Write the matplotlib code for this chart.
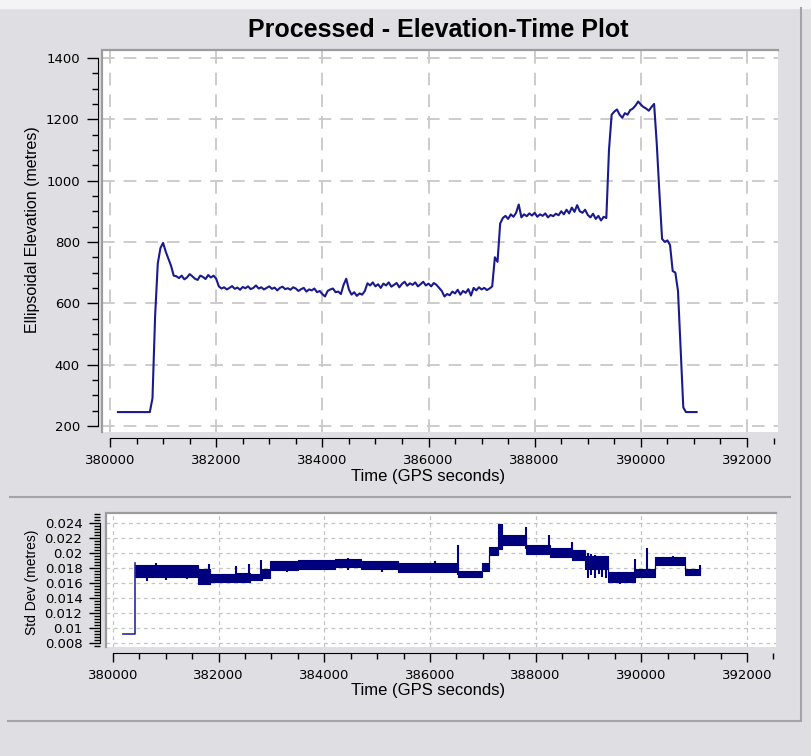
import numpy as np
import matplotlib.pyplot as plt
from matplotlib.lines import Line2D
from matplotlib.ticker import MultipleLocator, FuncFormatter

# ---- data: elevation, sampled every 50 s from 380150 ----
elev_t0 = 380150
elev_dt = 50
elev = [
    245, 245, 245, 245, 245, 245, 245, 245, 245, 245,   # 380150
    245, 245, 245, 290, 560, 730, 780, 797, 768, 745,   # 380650
    722, 690, 688, 682, 690, 678, 684, 695, 688, 680,   # 381150
    676, 690, 686, 679, 692, 684, 690, 680, 655, 648,   # 381650
    652, 645, 650, 656, 647, 651, 644, 653, 649, 655,   # 382150
    646, 650, 658, 648, 652, 645, 650, 655, 647, 651,   # 382650
    642, 650, 654, 646, 649, 644, 652, 648, 640, 646,   # 383150
    650, 638, 645, 642, 648, 636, 640, 630, 622, 640,   # 383650
    645, 648, 636, 638, 630, 660, 680, 645, 628, 636,   # 384150
    624, 632, 628, 640, 665, 658, 668, 655, 662, 650,   # 384650
    664, 658, 668, 654, 660, 666, 652, 663, 670, 657,   # 385150
    665, 660, 668, 655, 662, 670, 658, 664, 655, 666,   # 385650
    660, 650, 640, 622, 630, 626, 638, 632, 644, 628,   # 386150
    640, 634, 646, 625, 650, 642, 652, 645, 650, 643,   # 386650
    648, 655, 750, 735, 860, 878, 885, 875, 890, 882,   # 387150
    895, 922, 880, 890, 884, 893, 886, 895, 882, 890,   # 387650
    885, 893, 880, 888, 884, 892, 887, 900, 890, 905,   # 388150
    893, 912, 898, 920, 900, 895, 905, 888, 880, 892,   # 388650
    875, 885, 870, 882, 878, 1100, 1215, 1225, 1232, 1215,  # 389150
    1205, 1220, 1215, 1230, 1235, 1245, 1258, 1248, 1240, 1235,  # 389650
    1228, 1240, 1250, 1120, 960, 810, 800, 805, 790, 705,  # 390150
    700, 640, 450, 260, 245, 245, 245, 245, 245,        # 390650
]

# ---- data: std dev, band segments (edges, low, high) ----
sd_start_t = [380189, 380416, 380416]
sd_start_v = [0.0092, 0.0092, 0.0187]
sd_edges = [380416, 381608, 381835, 382346, 382592, 382820, 382970, 383500,
            384200, 384700, 385400, 386528, 386982, 387115, 387285, 387360,
            387814, 388268, 388684, 388930, 389365, 389876, 390254, 390822,
            391106]
sd_low = [0.0168, 0.0159, 0.0161, 0.0161, 0.0164, 0.0167, 0.0177, 0.0179,
          0.0181, 0.0178, 0.0175, 0.0168, 0.0176, 0.0197, 0.0205, 0.0210,
          0.0198, 0.0195, 0.0190, 0.0178, 0.0161, 0.0168, 0.0184, 0.0170]
sd_high = [0.0184, 0.0178, 0.0172, 0.0173, 0.0172, 0.0178, 0.0189, 0.0190,
           0.0192, 0.0189, 0.0187, 0.0176, 0.0186, 0.0208, 0.0238, 0.0224,
           0.0210, 0.0207, 0.0204, 0.0196, 0.0174, 0.0179, 0.0195, 0.0179]
spike_t = [380650, 380813, 381000, 381400, 381816, 382327, 382573, 382800,
           383300, 384450, 385100, 386090, 386528, 386700, 387814, 388250,
           388684, 388990, 389050, 389120, 389200, 389260, 389330, 389600,
           389876, 390100, 390600, 391106]
spike_lo = [0.0163, 0.0175, 0.0164, 0.0165, 0.0165, 0.0165, 0.0165, 0.0168,
            0.0174, 0.0177, 0.0175, 0.0178, 0.0170, 0.0166, 0.0205, 0.0200,
            0.0195, 0.0167, 0.0170, 0.0166, 0.0172, 0.0168, 0.0167, 0.0159,
            0.0165, 0.0170, 0.0182, 0.0170]
spike_hi = [0.0175, 0.0187, 0.0175, 0.0175, 0.0185, 0.0183, 0.0185, 0.0190,
            0.0185, 0.0193, 0.0186, 0.0189, 0.0211, 0.0174, 0.0234, 0.0224,
            0.0215, 0.0200, 0.0199, 0.0197, 0.0196, 0.0193, 0.0192, 0.0170,
            0.0192, 0.0206, 0.0196, 0.0184]

W, H = 811, 756
BG = '#dfdfe3'
NAVY = '#1a1a8e'
LABEL_FONT = 'Liberation Sans'

fig = plt.figure(figsize=(W / 100, H / 100), dpi=100, facecolor=BG)


def fx(px):
    return px / W


def fy(py):
    return 1 - py / H


def frame_axes(ax, left_off, bottom_off, ylo, yhi):
    ax.set_facecolor('white')
    for s in ['top', 'right']:
        ax.spines[s].set_visible(False)
    ax.spines['left'].set_position(('outward', left_off))
    ax.spines['bottom'].set_position(('outward', bottom_off))
    ax.spines['left'].set_bounds(ylo, yhi)
    ax.spines['bottom'].set_bounds(380000, 392000)
    ax.xaxis.set_major_locator(MultipleLocator(2000))
    ax.xaxis.set_minor_locator(MultipleLocator(500))
    ax.tick_params(which='major', direction='out', width=1, labelsize=9.5)
    ax.tick_params(axis='x', which='major', length=6.5, pad=5)
    ax.tick_params(axis='y', which='major', length=8, pad=5)
    ax.tick_params(which='minor', length=4.5, width=1, direction='out')
    ax.xaxis.set_major_formatter(FuncFormatter(lambda v, p: f'{int(v)}'))
    # sunken border on top and left of the plot area
    ax.plot([0, 0, 1], [0, 1, 1], transform=ax.transAxes, color='#9c9c9c',
            lw=1.6, clip_on=False, zorder=6, solid_joinstyle='miter')


# ---------- top panel ----------
ax1 = fig.add_axes([fx(102), fy(432), fx(778) - fx(102), fy(50) - fy(432)])
ax1.set_xlim(379849, 392584)
ax1.set_ylim(180, 1426)
frame_axes(ax1, 3, 4, 200, 1400)
ax1.yaxis.set_major_locator(MultipleLocator(200))
ax1.yaxis.set_minor_locator(MultipleLocator(50))
ax1.grid(True, which='major', linestyle=(0, (7, 5)), color='#c8c8c8', lw=1.3)
ax1.set_axisbelow(True)

t_elev = elev_t0 + elev_dt * np.arange(len(elev))
ax1.plot(t_elev, elev, color=NAVY, lw=1.5, zorder=3)

# ---------- bottom panel ----------
ax2 = fig.add_axes([fx(106), fy(647), fx(776) - fx(106), fy(513) - fy(647)])
ax2.set_xlim(379868, 392549)
ax2.set_ylim(0.00747, 0.02533)
frame_axes(ax2, 4, 4, 0.008, 0.024)
ax2.yaxis.set_major_locator(MultipleLocator(0.002))
ax2.yaxis.set_minor_locator(MultipleLocator(0.0004))
ax2.yaxis.set_major_formatter(FuncFormatter(lambda v, p: f'{v:g}'))
ax2.tick_params(axis='y', which='minor', length=4)
ax2.grid(True, which='major', linestyle=(0, (3, 3)), color='#c4c4c4', lw=0.9)
ax2.set_axisbelow(True)

xs, lo, hi = [], [], []
for i in range(len(sd_low)):
    xs += [sd_edges[i], sd_edges[i + 1]]
    lo += [sd_low[i], sd_low[i]]
    hi += [sd_high[i], sd_high[i]]
ax2.fill_between(xs, lo, hi, color='#00007f', lw=0.8, edgecolor='#00007f', zorder=3)
ax2.vlines(spike_t, spike_lo, spike_hi, color='#00007f', lw=1.5, zorder=3)
ax2.plot(sd_start_t, sd_start_v, color='#2a2a9a', lw=1.2, zorder=3)

# ---------- texts ----------
fig.text(fx(438), fy(30), 'Processed - Elevation-Time Plot', ha='center',
         va='center', fontsize=18, fontweight='bold', family=LABEL_FONT)
fig.text(fx(33), fy(230), 'Ellipsoidal Elevation (metres)', rotation=90,
         ha='center', va='center', fontsize=11.5, family=LABEL_FONT)
fig.text(fx(428), fy(476), 'Time (GPS seconds)', ha='center', va='center',
         fontsize=12, family=LABEL_FONT)
fig.text(fx(32), fy(582), 'Std Dev (metres)', rotation=90, ha='center',
         va='center', fontsize=10, family=LABEL_FONT)
fig.text(fx(428), fy(691), 'Time (GPS seconds)', ha='center', va='center',
         fontsize=12, family=LABEL_FONT)

# ---------- window chrome ----------
fig.add_artist(plt.Rectangle((0, fy(8)), 1, 8 / H, transform=fig.transFigure,
                             color='#f4f4f6', zorder=0))
for (x0, y0, x1, y1) in [(10, 497, 790, 497), (8, 721, 800, 721),
                         (801, 8, 801, 721)]:
    fig.add_artist(Line2D([fx(x0), fx(x1)], [fy(y0), fy(y1)],
                          transform=fig.transFigure, color='#a4a4a8', lw=1.5))

fig.savefig('out.png', dpi=100, facecolor=BG)
